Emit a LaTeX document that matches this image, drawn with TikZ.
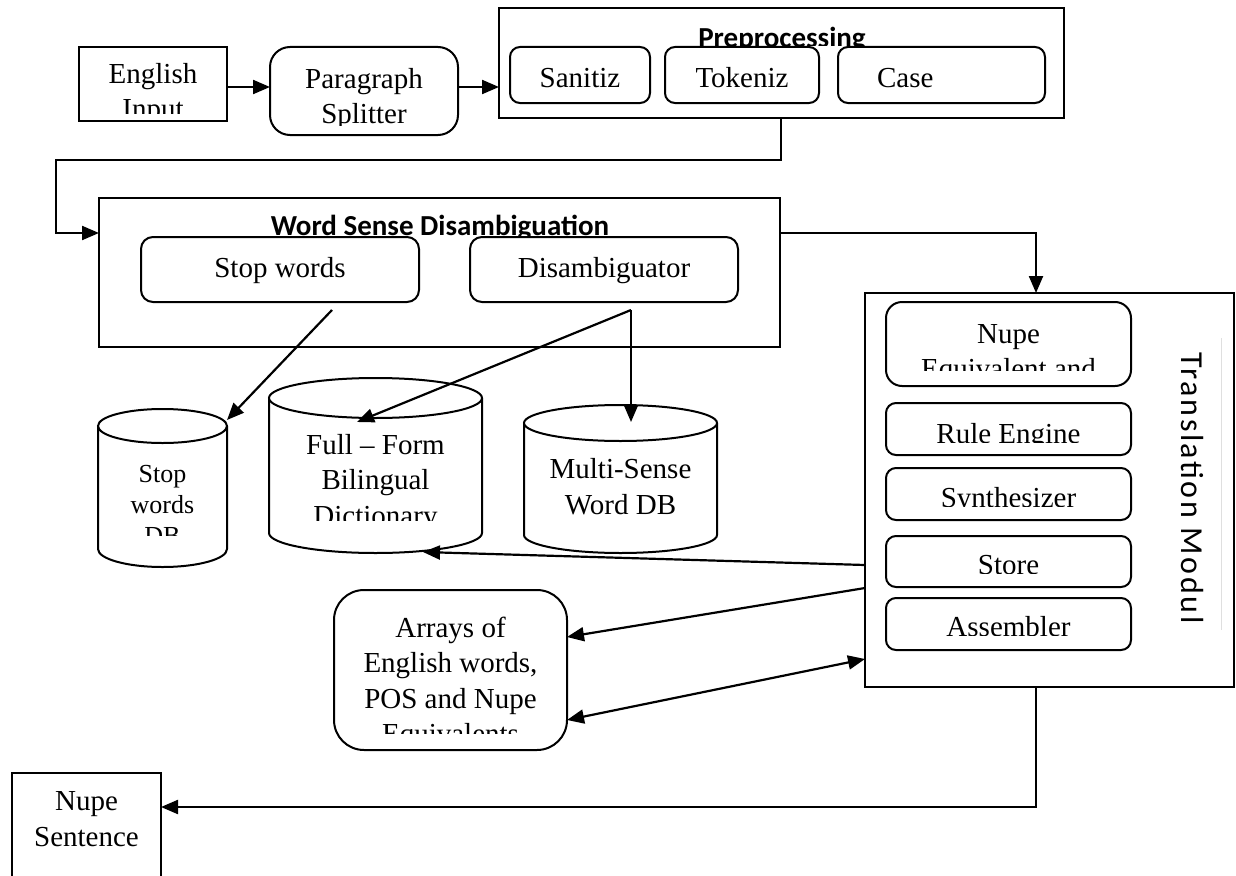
\documentclass[tikz,border=0pt]{standalone}
\usepackage{fontspec}
\setmainfont{Liberation Serif}
\newfontfamily\titlefont{Carlito}
\newfontfamily\modfont[LetterSpace=8]{Carlito}
\usetikzlibrary{arrows.meta}

\begin{document}
\begin{tikzpicture}[x=1pt,y=-1pt,
  line width=2.2pt,
  frame/.style={draw, line width=2pt, fill=white, inner sep=0pt, outer sep=0pt, anchor=north west},
  rframe/.style={frame, rounded corners=#1},
  rframe/.default=10pt,
  lbl/.style={inner sep=0pt, align=center, anchor=base, font=\fontsize{29}{35.5}\selectfont},
  small/.style={lbl, font=\fontsize{26}{31}\selectfont},
  head/.style={inner sep=0pt, anchor=base, font=\titlefont\bfseries\fontsize{29}{34}\selectfont},
  tip/.tip={Triangle[length=17pt,width=14pt]},
  flow/.style={draw, line width=2.2pt, -tip},
  both/.style={draw, line width=2.2pt, tip-tip},
  drum/.style={draw, line width=2pt, fill=white},
]
\useasboundingbox (0,0) rectangle (1236,875);
\clip (0,0) rectangle (1236,875);

% ---------- input stage ----------
\node[frame, minimum width=148pt, minimum height=74pt] (eng) at (79,47) {};
\begin{scope}\clip (80,48) rectangle (226,113);
  \node[lbl] (engT) at (153,118.5) {English\\Input};
\end{scope}

\node[rframe=20pt, minimum width=188pt, minimum height=88pt] (para) at (270,47) {};
\begin{scope}\clip (271,48) rectangle (457,125);
  \node[lbl] (paraT) at (364,123.5) {Paragraph\\Splitter};
\end{scope}

% ---------- preprocessing ----------
\node[frame, minimum width=565pt, minimum height=110pt] (pre) at (499,8) {};
\begin{scope}\clip (500,9) rectangle (1063,46);
  \node[head] (preT) at (782,48) {Preprocessing};
\end{scope}
\node[rframe, minimum width=140pt, minimum height=56pt] (san) at (510,47) {};
\node[lbl] (sanT) at (580,87) {Sanitiz};
\node[rframe, minimum width=154pt, minimum height=56pt] (tok) at (665,47) {};
\node[lbl] (tokT) at (742,87) {Tokeniz};
\node[rframe, minimum width=207pt, minimum height=56pt] (cas) at (838,47) {};
\node[lbl, anchor=base west] (casT) at (876,87) {Case};

% ---------- word sense disambiguation ----------
\node[frame, minimum width=681pt, minimum height=149pt] (wsd) at (99,198) {};
\begin{scope}\clip (100,199) rectangle (779,236);
  \node[head] (wsdT) at (440,235) {Word Sense Disambiguation};
\end{scope}
\node[rframe=12pt, minimum width=278pt, minimum height=65pt] (stw) at (141,237) {};
\node[lbl] (stwT) at (280,277) {Stop words};
\node[rframe=12pt, minimum width=268pt, minimum height=65pt] (dis) at (470,237) {};
\node[lbl] (disT) at (604,277) {Disambiguator};

% ---------- databases ----------
\draw[drum] (98,426) -- (98,549) arc[start angle=180, end angle=360, x radius=64.5pt, y radius=18pt] -- (227,426);
\draw[drum] (162.5,426) ellipse [x radius=64.5pt, y radius=17pt];
\begin{scope}\clip (99,444) rectangle (226,535);
  \node[small] (sdbT) at (162.5,544) {Stop\\words\\DB};
\end{scope}

\draw[drum] (269,398) -- (269,533) arc[start angle=180, end angle=360, x radius=106.5pt, y radius=20pt] -- (482,398);
\draw[drum] (375.5,398) ellipse [x radius=106.5pt, y radius=20pt];
\begin{scope}\clip (270,419) rectangle (481,520);
  \node[lbl] (ffT) at (375.5,525) {Full -- Form\\Bilingual\\Dictionary};
\end{scope}

\draw[drum] (524,423) -- (524,535) arc[start angle=180, end angle=360, x radius=96.5pt, y radius=18pt] -- (717,423);
\draw[drum] (620.5,423) ellipse [x radius=96.5pt, y radius=18pt];
\node[lbl] (msT) at (620.5,514) {Multi-Sense\\Word DB};

% ---------- translation module ----------
\node[frame, minimum width=369pt, minimum height=394pt] (tm) at (865,293) {};
\draw[gray!25, line width=0.8pt] (1221,338) -- (1221,630);
\node[inner sep=0pt, rotate=-90, font=\modfont\fontsize{32}{36}\selectfont] (tmT) at (1192,488) {Translation Modul};

\node[rframe=16pt, minimum width=245pt, minimum height=84pt] (neq) at (886,302) {};
\begin{scope}\clip (887,303) rectangle (1130,370);
  \node[lbl] (neqT) at (1008.5,378.5) {Nupe\\Equivalent and};
\end{scope}
\node[rframe, minimum width=245pt, minimum height=52pt] (rul) at (886,403) {};
\begin{scope}\clip (887,404) rectangle (1130,442);
  \node[lbl] (rulT) at (1008.5,443) {Rule Engine};
\end{scope}
\node[rframe, minimum width=245pt, minimum height=52pt] (syn) at (886,468) {};
\begin{scope}\clip (887,469) rectangle (1130,506);
  \node[lbl] (synT) at (1008.5,507) {Synthesizer};
\end{scope}
\node[rframe, minimum width=245pt, minimum height=51pt] (sto) at (886,536) {};
\begin{scope}\clip (887,537) rectangle (1130,573);
  \node[lbl] (stoT) at (1008.5,574) {Store};
\end{scope}
\node[rframe, minimum width=245pt, minimum height=52pt] (asm) at (886,598) {};
\begin{scope}\clip (887,599) rectangle (1130,635);
  \node[lbl] (asmT) at (1008.5,636) {Assembler};
\end{scope}

% ---------- arrays and output ----------
\node[rframe=30pt, minimum width=233pt, minimum height=160pt] (arr) at (334,590) {};
\begin{scope}\clip (335,591) rectangle (566,733);
  \node[lbl] (arrT) at (450.5,743.5) {Arrays of\\English words,\\POS and Nupe\\Equivalents};
\end{scope}

\node[frame, minimum width=149pt, minimum height=127pt] (ns) at (12,773) {};
\node[lbl] (nsT) at (86.5,846) {Nupe\\Sentence};

% ---------- connection points ----------
\coordinate (preOut) at (781,118);
\coordinate (wsdIn) at (99,233);
\coordinate (wsdOut) at (780,233);
\coordinate (tmIn) at (1036,293);
\coordinate (stwOut) at (332,310);
\coordinate (disOut) at (631,310);
\coordinate (sdbIn) at (227,420);
\coordinate (ffIn) at (357,422);
\coordinate (msIn) at (631,422);
\coordinate (ffBot) at (423,552);
\coordinate (tmA) at (865,565);
\coordinate (tmB) at (865,588);
\coordinate (tmC) at (865,659);
\coordinate (arrA) at (567,637);
\coordinate (arrB) at (567,720);
\coordinate (tmOut) at (1036,687);
\coordinate (nsIn) at (161,807);

% ---------- connectors ----------
\draw[flow] (eng.east |- 0,87) -- (para.west |- 0,87);
\draw[flow] (para.east |- 0,87) -- (pre.west |- 0,87);
\draw[flow] (preOut) -- (781,160) -- (56,160) -- (56,233) -- (wsdIn);
\draw[flow] (wsdOut) -- (1036,233) -- (tmIn);
\draw[flow] (stwOut) -- (sdbIn);
\draw[flow] (disOut) -- (ffIn);
\draw[flow] (disOut) -- (msIn);
\draw[flow] (tmA) -- (ffBot);
\draw[flow] (tmB) -- (arrA);
\draw[both] (arrB) -- (tmC);
\draw[flow] (tmOut) -- (1036,807) -- (nsIn);
\end{tikzpicture}
\end{document}
